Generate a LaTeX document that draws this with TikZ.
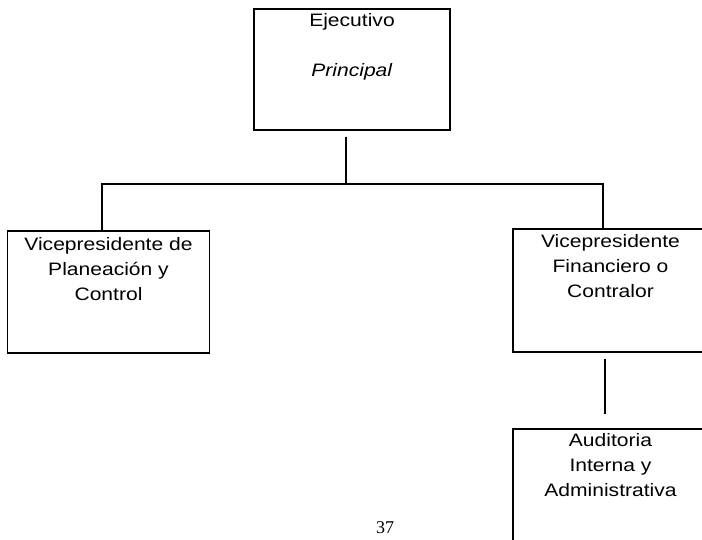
\documentclass[tikz,border=0pt]{standalone}
\usepackage{fontspec}
\setmainfont{Liberation Sans}[FakeStretch=1.17]
\newfontfamily\numfont{Liberation Serif}
\begin{document}
\begin{tikzpicture}[x=1pt,y=-1pt,
  box/.style={draw=black,line width=1.4pt,rectangle,inner sep=0pt},
  boxtext/.style={anchor=north,align=center,inner sep=0pt,font=\fontsize{18}{25}\selectfont},
  conn/.style={draw=black,line width=1.4pt}]
\useasboundingbox (0,0) rectangle (702,540);
% boxes
\node[box,minimum width=196pt,minimum height=121pt] (top) at (352,69.5) {};
\node[box,minimum width=202pt,minimum height=122pt] (left) at (108.5,292) {};
\node[box,minimum width=195pt,minimum height=123pt] (right) at (610.5,290.5) {};
\node[box,minimum width=195pt,minimum height=121pt] (audit) at (610.5,489.5) {};
% texts
\node[boxtext] (ttop) at ([yshift=-5pt]top.north) {Ejecutivo\\[25pt]\textit{Principal}};
\node[boxtext] (tleft) at ([yshift=-7pt]left.north) {Vicepresidente de\\Planeación y\\Control};
\node[boxtext] (tright) at ([yshift=-6pt]right.north) {Vicepresidente\\Financiero o\\Contralor};
\node[boxtext] (taudit) at ([yshift=-5pt]audit.north) {Auditoria\\Interna y\\Administrativa};
\node[inner sep=0pt,font=\numfont\fontsize{18}{20}\selectfont] (page) at (385,528) {37};
% connectors
\coordinate (bus) at (346,184);
\draw[conn] ([xshift=-6pt,yshift=-6pt]top.south) -- (bus);
\draw[conn] ([xshift=-6.5pt]left.north) |- (bus) -| ([xshift=-7.5pt]right.north);
\draw[conn] ([xshift=-5.5pt,yshift=-6pt]right.south) -- ([xshift=-5.5pt,yshift=14pt]audit.north);
\end{tikzpicture}
\end{document}
